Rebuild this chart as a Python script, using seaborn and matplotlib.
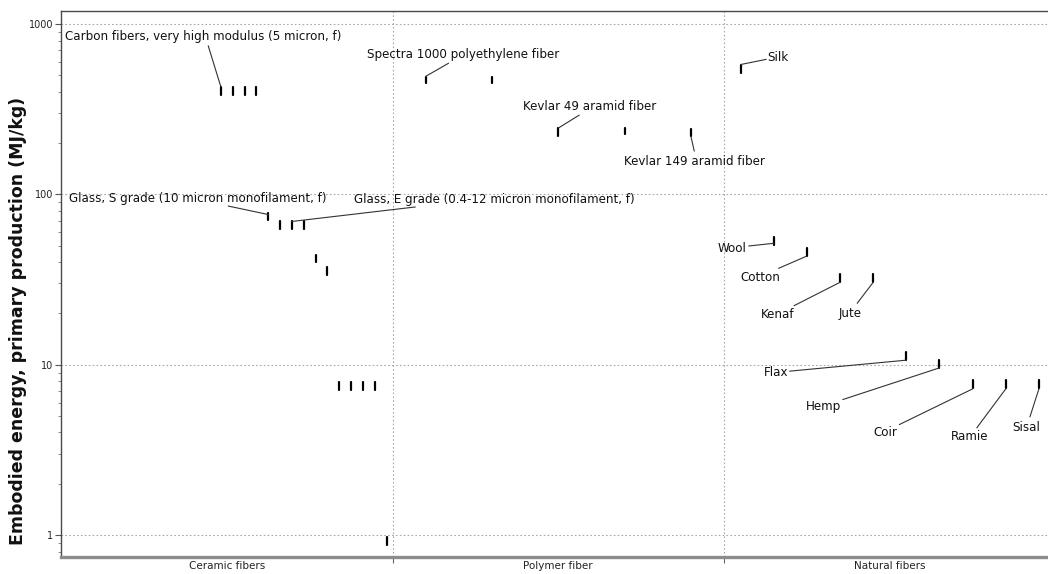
import numpy as np
import pandas as pd
import matplotlib
matplotlib.use("Agg")
import matplotlib.pyplot as plt
import seaborn as sns
from matplotlib.ticker import LogLocator, NullFormatter, FixedLocator, FixedFormatter
from matplotlib.transforms import offset_copy

# ---------------------------------------------------------------- data
categories = ["Ceramic fibers", "Polymer fiber", "Natural fibers"]
slots_per_category = [28, 5, 10]

# Ceramic fibers: the charted records occupy slots 13..27 of the group
ceramic_first_slot = 13
ceramic_names = [
    "Carbon fibers, very high modulus (5 micron, f)", "", "", "",
    "Glass, S grade (10 micron monofilament, f)", "",
    "Glass, E grade (0.4-12 micron monofilament, f)", "",
    "", "", "", "", "", "", "",
]
ceramic_low = [385, 385, 385, 385, 70.5, 63, 63, 63, 40, 33.8, 7.15, 7.15, 7.15, 7.15, 0.875]
ceramic_high = [428, 428, 428, 428, 78, 69.5, 69.5, 69.5, 44, 37.5, 7.9, 7.9, 7.9, 7.9, 0.97]

polymer_names = ["Spectra 1000 polyethylene fiber", "", "Kevlar 49 aramid fiber", "",
                 "Kevlar 149 aramid fiber"]
polymer_low = [450, 450, 220, 226, 220]
polymer_high = [492, 492, 245, 245, 242]

natural_names = ["Silk", "Wool", "Cotton", "Kenaf", "Jute", "Flax", "Hemp", "Coir", "Ramie", "Sisal"]
natural_low = [516, 50.5, 43.5, 30.6, 30.6, 10.65, 9.56, 7.29, 7.29, 7.29]
natural_high = [575, 56.2, 48.4, 34.1, 34.1, 11.9, 10.65, 8.13, 8.13, 8.13]

ytick_values = [1, 10, 100, 1000]
ytick_labels = ["1", "10", "100", "1000"]
y_label = "Embodied energy, primary production (MJ/kg)"

# ---------------------------------------------------------------- records
groups = [
    (0, ceramic_first_slot, ceramic_names, ceramic_low, ceramic_high),
    (1, 0, polymer_names, polymer_low, polymer_high),
    (2, 0, natural_names, natural_low, natural_high),
]
rows = []
marks = []
rid = 0
for cat, first, names, lows, highs in groups:
    n = slots_per_category[cat]
    for i, (name, lo, hi) in enumerate(zip(names, lows, highs)):
        pos = cat + (first + i + 0.5) / n
        rows.append({"rid": rid, "pos": pos, "energy": lo})
        rows.append({"rid": rid, "pos": pos, "energy": hi})
        marks.append({"name": name, "pos": pos, "mid": np.sqrt(lo * hi)})
        rid += 1
df = pd.DataFrame(rows)
mark_df = pd.DataFrame(marks)

# label placement in pixels relative to each bar's centre:
# (text dx, text dy, ha, leader start dx, leader start dy, leader end dy)
label_layout = {
    "Carbon fibers, very high modulus (5 micron, f)": (-155.6, 54, "left", -12.6, 45, 4),
    "Glass, S grade (10 micron monofilament, f)": (-199, 18.5, "left", -40, 10.5, 2),
    "Glass, E grade (0.4-12 micron monofilament, f)": (62.5, 25.5, "left", 123.5, 18, 3.5),
    "Spectra 1000 polyethylene fiber": (-59, 25, "left", 23, 16.7, 3.5),
    "Kevlar 49 aramid fiber": (-35, 25.3, "left", 21, 17, 4),
    "Kevlar 149 aramid fiber": (-66.6, -28.5, "left", 3.4, -18.5, -3.5),
    "Silk": (27, 11.7, "left", 25.7, 9.7, 4.5),
    "Wool": (-27.6, -7.3, "right", -25, -5, -2.3),
    "Cotton": (-66.6, -25.3, "left", -28.3, -16.3, -4),
    "Kenaf": (-79, -37, "left", -46, -27.7, -4.3),
    "Jute": (-34.4, -35.3, "left", -16, -25.3, -4.3),
    "Flax": (-142.7, -16.8, "left", -116.7, -15.2, -4.2),
    "Hemp": (-134, -42.2, "left", -96.7, -35.5, -3.8),
    "Coir": (-99.3, -48.2, "left", -73.3, -40.5, -4.8),
    "Ramie": (-55, -52.8, "left", -29, -43.8, -4.8),
    "Sisal": (-26.7, -43.8, "left", -9, -32.8, -4.8),
}

# ---------------------------------------------------------------- figure
sns.set_style("white")
plt.rcParams["font.family"] = ["DejaVu Sans"]

W, H = 1048, 574
fig = plt.figure(figsize=(W / 100, H / 100), dpi=100)
ax = fig.add_axes([61 / W, 17 / H, 994.5 / W, 546 / H])

sns.lineplot(data=df, x="pos", y="energy", units="rid", estimator=None, sort=False,
             color="black", linewidth=1.6, ax=ax, legend=False)

ax.set_yscale("log")
ax.set_xlim(0, 3)
ax.set_ylim(0.743, 1194)
ax.set_xlabel("")
ax.set_ylabel("")

# y axis ticks
ax.yaxis.set_major_locator(FixedLocator(ytick_values))
ax.yaxis.set_major_formatter(FixedFormatter(ytick_labels))
ax.yaxis.set_minor_locator(LogLocator(base=10, subs=np.arange(2, 10)))
ax.yaxis.set_minor_formatter(NullFormatter())
ax.tick_params(axis="y", which="major", left=True, length=4, width=0.8, color="#555555",
               labelsize=7, pad=1.5, labelcolor="#222222")
ax.tick_params(axis="y", which="minor", left=True, length=2, width=0.6, color="#777777")

# x axis: boundaries as ticks, category names between them
ax.set_xticks([1, 2])
ax.set_xticklabels([])
ax.set_xticks([0.5, 1.5, 2.5], minor=True)
ax.set_xticklabels(categories, minor=True, fontsize=7.5, color="#222222")
ax.tick_params(axis="x", which="major", bottom=True, length=4, width=0.8, color="#666666")
ax.tick_params(axis="x", which="minor", bottom=False, length=0, pad=3)

ax.grid(True, which="major", axis="both", color="#a8a8a8", linestyle=(0, (1.5, 2)), linewidth=0.8)
ax.set_axisbelow(True)

for side in ("top", "left"):
    ax.spines[side].set_color("#4a4a4a")
    ax.spines[side].set_linewidth(1.0)
ax.spines["bottom"].set_color("#8c8c8c")
ax.spines["bottom"].set_linewidth(2.4)
ax.spines["right"].set_visible(False)

# labels with leader lines
for _, m in mark_df.iterrows():
    if m["name"] not in label_layout:
        continue
    tdx, tdy, ha, sdx, sdy, edy = label_layout[m["name"]]
    ax.annotate("", xy=(m["pos"], m["mid"]),
                xycoords=offset_copy(ax.transData, fig=fig, x=0, y=edy, units="dots"),
                xytext=(m["pos"], m["mid"]),
                textcoords=offset_copy(ax.transData, fig=fig, x=sdx, y=sdy, units="dots"),
                arrowprops=dict(arrowstyle="-", shrinkA=0, shrinkB=0, lw=0.8, color="#333333"))
    ax.text(m["pos"], m["mid"], m["name"], ha=ha, va="center", fontsize=8.6, color="#111111",
            transform=offset_copy(ax.transData, fig=fig, x=tdx, y=tdy, units="dots"))

fig.text(18 / W, 1 - 321 / H, y_label, rotation=90, ha="center", va="center",
         fontsize=12.5, fontweight="bold", color="#111111")

fig.savefig("out.png", dpi=100)
